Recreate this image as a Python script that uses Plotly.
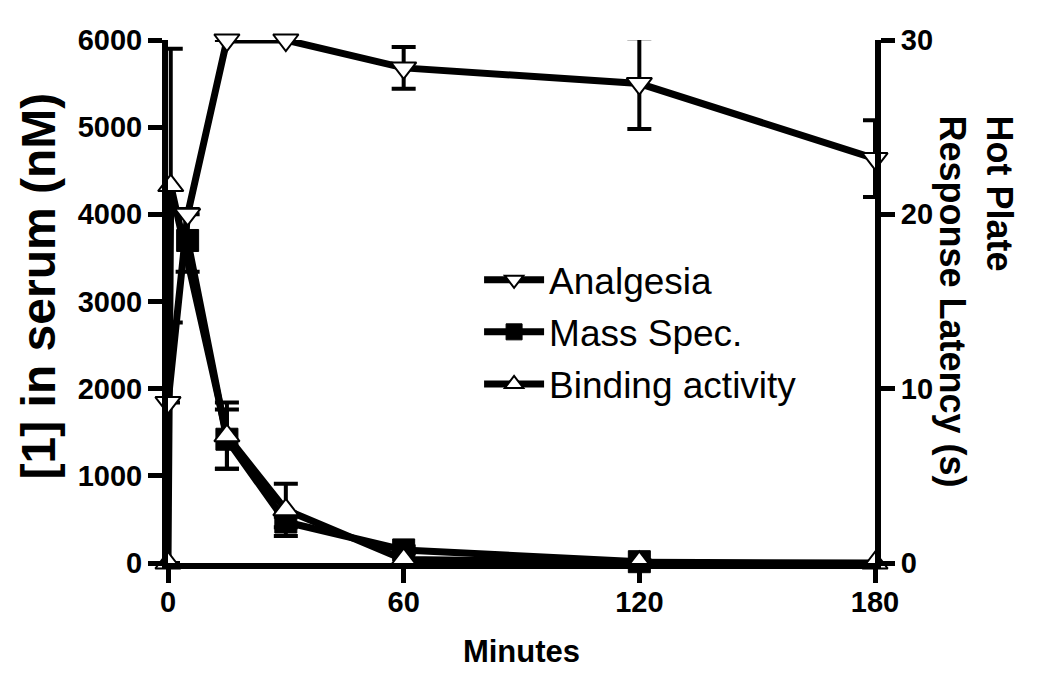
import plotly.graph_objects as go

# Analgesia (right axis, hot plate latency in s)
analgesia_t = [0, 5, 15, 30, 60, 120, 180]
analgesia_s = [9.2, 20.0, 30.0, 30.0, 28.4, 27.5, 23.2]
analgesia_err = [0, 0, 0, 0, 1.2, 2.6, 2.2]

# Mass Spec. (left axis, nM)
mass_t = [5, 15, 30, 60, 120]
mass_nm = [3700, 1420, 470, 150, 15]
mass_err = [360, 340, 60, 40, 20]

# Binding activity (left axis, nM)
bind_t = [0, 0.7, 15, 30, 60, 120, 180]
bind_nm = [0, 4330, 1460, 610, 40, 8, 0]
bind_err = [0, 1570, 380, 300, 80, 0, 0]

x_ticks = [0, 60, 120, 180]
y_ticks = [0, 1000, 2000, 3000, 4000, 5000, 6000]
y2_ticks = [0, 10, 20, 30]

FONT = "Liberation Sans"

fig = go.Figure()

fig.add_trace(go.Scatter(
    x=analgesia_t, y=analgesia_s, yaxis="y2", name="Analgesia",
    mode="lines+markers", legendgroup="a",
    line=dict(color="black", width=7),
    marker=dict(symbol="triangle-down", size=22, color="white",
                line=dict(color="black", width=2)),
    error_y=dict(type="data", array=analgesia_err, color="black",
                 thickness=4, width=12),
    cliponaxis=False,
))

fig.add_trace(go.Scatter(
    x=mass_t, y=mass_nm, name="Mass Spec.",
    mode="lines+markers", legendgroup="m",
    line=dict(color="black", width=7),
    marker=dict(symbol="square", size=22, color="black",
                line=dict(color="black", width=1)),
    error_y=dict(type="data", array=mass_err, color="black",
                 thickness=4, width=12),
    cliponaxis=False,
))

fig.add_trace(go.Scatter(
    x=bind_t, y=bind_nm, name="Binding activity",
    mode="lines+markers", legendgroup="b",
    line=dict(color="black", width=7),
    marker=dict(symbol="triangle-up", size=22, color="white",
                line=dict(color="black", width=2)),
    error_y=dict(type="data", array=bind_err, color="black",
                 thickness=4, width=12),
    cliponaxis=False,
))

axis_common = dict(
    showline=True, linecolor="black", linewidth=6,
    ticks="outside", ticklen=14, tickwidth=5, tickcolor="black",
    showgrid=False, zeroline=False,
    tickfont=dict(family=FONT, size=29, color="black", weight="bold"),
)

fig.update_layout(
    width=1050, height=677,
    paper_bgcolor="white", plot_bgcolor="white",
    margin=dict(l=160, r=183, t=32, b=122),
    showlegend=True,
    legend=dict(
        x=0.44, y=0.6, xanchor="left", yanchor="top",
        font=dict(family=FONT, size=37, color="black"),
        bgcolor="rgba(0,0,0,0)", tracegroupgap=1, itemwidth=60,
    ),
    xaxis=dict(range=[0, 180], tickvals=x_ticks, **axis_common,
               ticklabelstandoff=-6,
               title=dict(text="Minutes", standoff=26,
                          font=dict(family=FONT, size=31, color="black", weight="bold"))),
    yaxis=dict(range=[0, 6000], tickvals=y_ticks, **axis_common),
    yaxis2=dict(range=[0, 30], tickvals=y2_ticks, overlaying="y", side="right",
                **axis_common),
    annotations=[
        dict(text="[1] in serum (nM)", xref="paper", yref="paper",
             x=-0.183, y=0.53, xanchor="center", yanchor="middle",
             textangle=-90, showarrow=False,
             font=dict(family=FONT, size=48, color="black", weight="bold")),
        dict(text="Hot Plate<br>Response Latency (s)", xref="paper", yref="paper",
             x=1.143, y=0.5, xanchor="center", yanchor="middle",
             textangle=90, showarrow=False, align="left",
             font=dict(family=FONT, size=36, color="black", weight="bold")),
    ],
)

fig.write_html("out.html")
